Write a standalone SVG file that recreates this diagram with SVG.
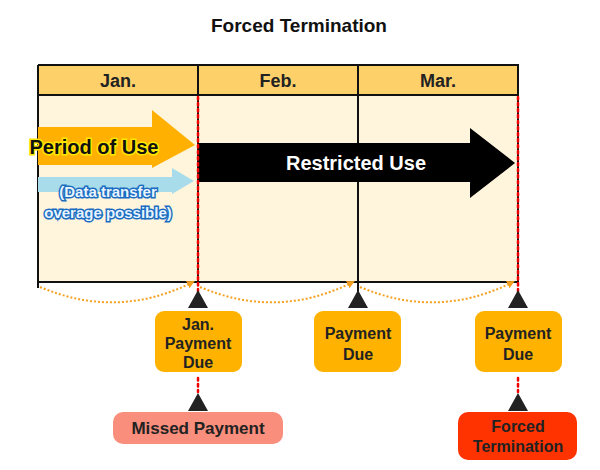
<svg xmlns="http://www.w3.org/2000/svg" width="600" height="470" viewBox="0 0 600 470">
<style>
text{font-family:"Liberation Sans",Arial,sans-serif;font-weight:bold;text-anchor:middle}
.b{font-size:17px;fill:#222}
.box{fill:#ffb300}
.tri{fill:#222}
.rd{stroke:#e00;stroke-width:2.5;stroke-dasharray:2.5 3.5;stroke-linecap:round}
.arc{fill:none;stroke:#f4a020;stroke-width:2;stroke-dasharray:2 2}
</style>
<defs><marker id="ah" markerWidth="8" markerHeight="8" refX="6" refY="4" orient="auto" markerUnits="userSpaceOnUse"><path d="M0,0L8,4L0,8z" fill="#f4a020"/></marker></defs>
<rect width="600" height="470" fill="#fff"/>
<text x="299" y="32" style="font-size:19px;fill:#111">Forced Termination</text>
<g id="table">
<rect x="38" y="95" width="480" height="187" fill="#fff5dc"/>
<rect x="38" y="65" width="480" height="30" fill="#fdd06a"/>
<path d="M38,65H518V282M38,95H518M38,282H518M38,65V288M198,65V282M358,65V292" stroke="#111" stroke-width="2" fill="none"/>
<text x="118" y="87" class="b" style="font-size:18px">Jan.</text>
<text x="278" y="87" class="b" style="font-size:18px">Feb.</text>
<text x="438" y="87" class="b" style="font-size:18px">Mar.</text>
</g>
<g id="arrows">
<path d="M38,127H152V110L195,145L152,168V165H38z" fill="#ffb000"/>
<path d="M38,177H172V168L194,181L172,194V192H38z" fill="#a8dcea"/>
<path d="M198,143H470V128L515,163L470,198V182H198z" fill="#000"/>
<text x="94" y="154" style="font-size:20px;fill:#111;stroke:#ffe600;stroke-width:3;paint-order:stroke">Period of Use</text>
<text x="108" y="197" style="font-size:15px;fill:#e8f4ff;stroke:#1a6cc0;stroke-width:3;paint-order:stroke">(Data transfer</text>
<text x="108" y="218" style="font-size:15px;fill:#e8f4ff;stroke:#1a6cc0;stroke-width:3;paint-order:stroke">overage possible)</text>
<text x="356" y="170" style="font-size:20px;fill:#fff">Restricted Use</text>
</g>
<g id="connectors">
<path class="rd" d="M198,97V300M518,97V300"/>
<path class="rd" d="M198,378V392M518,378V392"/>
<path class="arc" d="M40,287Q118,320 193,282" marker-end="url(#ah)"/>
<path class="arc" d="M200,287Q278,320 353,282" marker-end="url(#ah)"/>
<path class="arc" d="M360,287Q438,320 513,282" marker-end="url(#ah)"/>
<path class="tri" d="M198,290L208,308H188z M358,290L368,308H348z M518,290L528,308H508z M198,393L208,411H188z M518,393L528,411H508z"/>
</g>
<g id="n1"><rect x="155" y="311" width="87" height="61" rx="9" class="box"/>
<text x="198" y="330" class="b" style="font-size:16px">Jan.</text>
<text x="198" y="349" class="b" style="font-size:16px">Payment</text>
<text x="198" y="368" class="b" style="font-size:16px">Due</text></g>
<g id="n2"><rect x="314" y="311" width="87" height="61" rx="9" class="box"/>
<text x="358" y="339" class="b" style="font-size:16px">Payment</text>
<text x="358" y="360" class="b" style="font-size:16px">Due</text></g>
<g id="n3"><rect x="475" y="311" width="87" height="61" rx="9" class="box"/>
<text x="518" y="339" class="b" style="font-size:16px">Payment</text>
<text x="518" y="360" class="b" style="font-size:16px">Due</text></g>
<g id="n4"><rect x="113" y="412" width="170" height="32" rx="10" fill="#fa8e7c"/>
<text x="198" y="434" class="b">Missed Payment</text></g>
<g id="n5"><rect x="458" y="412" width="119" height="48" rx="10" fill="#ff3300"/>
<text x="518" y="432" class="b" style="font-size:16px">Forced</text>
<text x="518" y="452" class="b" style="font-size:16px">Termination</text></g>
</svg>
